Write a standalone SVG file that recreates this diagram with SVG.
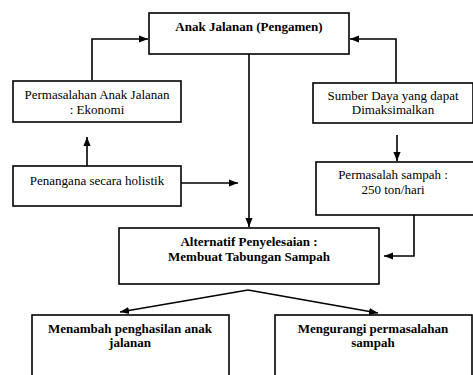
<svg xmlns="http://www.w3.org/2000/svg" width="473" height="375" viewBox="0 0 473 375" font-family="Liberation Serif, Times New Roman, DejaVu Serif, serif">
<style>
.box{fill:#fff;stroke:#000;stroke-width:1.6}
.t{font-family:'Liberation Serif','Times New Roman','DejaVu Serif',serif;font-size:13px;fill:#000;text-anchor:middle}
.b{font-weight:bold}
.c{fill:none;stroke:#000;stroke-width:1.6}
</style>
<defs>
<marker id="ah2" viewBox="0 0 10 10" refX="10" refY="5" markerWidth="9" markerHeight="9" orient="auto" markerUnits="userSpaceOnUse">
<path d="M0,1 L10,5 L0,9 z" fill="#000"/>
</marker>
</defs>
<rect width="473" height="375" fill="#fff"/>
<g id="connectors">
<path class="c" d="M92,80 V39 H148" marker-end="url(#ah2)"/>
<path class="c" d="M396,83 V39 H350" marker-end="url(#ah2)"/>
<path class="c" d="M87,166 V137" marker-end="url(#ah2)"/>
<path class="c" d="M181,183 H238" marker-end="url(#ah2)"/>
<path class="c" d="M397,135 V161" marker-end="url(#ah2)"/>
<path class="c" d="M414,215 V256 H384" marker-end="url(#ah2)"/>
<path class="c" d="M249,54 V227" marker-end="url(#ah2)"/>
<path class="c" d="M248,290 L120,312" marker-end="url(#ah2)"/>
<path class="c" d="M248,290 L378,313" marker-end="url(#ah2)"/>
</g>
<g id="n-anak">
<rect class="box" x="149" y="13" width="200" height="41"/>
<text class="t b" x="249" y="31">Anak Jalanan (Pengamen)</text>
</g>
<g id="n-permasalahan">
<rect class="box" x="13" y="81" width="168" height="41"/>
<text class="t" x="97" y="99">Permasalahan Anak Jalanan</text>
<text class="t" x="97" y="114">: Ekonomi</text>
</g>
<g id="n-penangana">
<rect class="box" x="13" y="166" width="168" height="40"/>
<text class="t" x="97" y="185">Penangana secara holistik</text>
</g>
<g id="n-sumber">
<rect class="box" x="313" y="83" width="160" height="40"/>
<text class="t" x="393" y="100">Sumber Daya yang dapat</text>
<text class="t" x="393" y="114">Dimaksimalkan</text>
</g>
<g id="n-sampah">
<rect class="box" x="316" y="162" width="158" height="53"/>
<text class="t" x="393" y="179">Permasalah sampah :</text>
<text class="t" x="393" y="194">250 ton/hari</text>
</g>
<g id="n-alternatif">
<rect class="box" x="119" y="228" width="260" height="56"/>
<text class="t b" x="249" y="246">Alternatif Penyelesaian :</text>
<text class="t b" x="249" y="261">Membuat Tabungan Sampah</text>
</g>
<g id="n-menambah">
<rect class="box" x="32" y="315" width="197" height="80"/>
<text class="t b" x="130" y="333">Menambah penghasilan anak</text>
<text class="t b" x="130" y="347">jalanan</text>
</g>
<g id="n-mengurangi">
<rect class="box" x="275" y="315" width="197" height="80"/>
<text class="t b" x="373" y="333">Mengurangi permasalahan</text>
<text class="t b" x="373" y="347">sampah</text>
</g>
</svg>
